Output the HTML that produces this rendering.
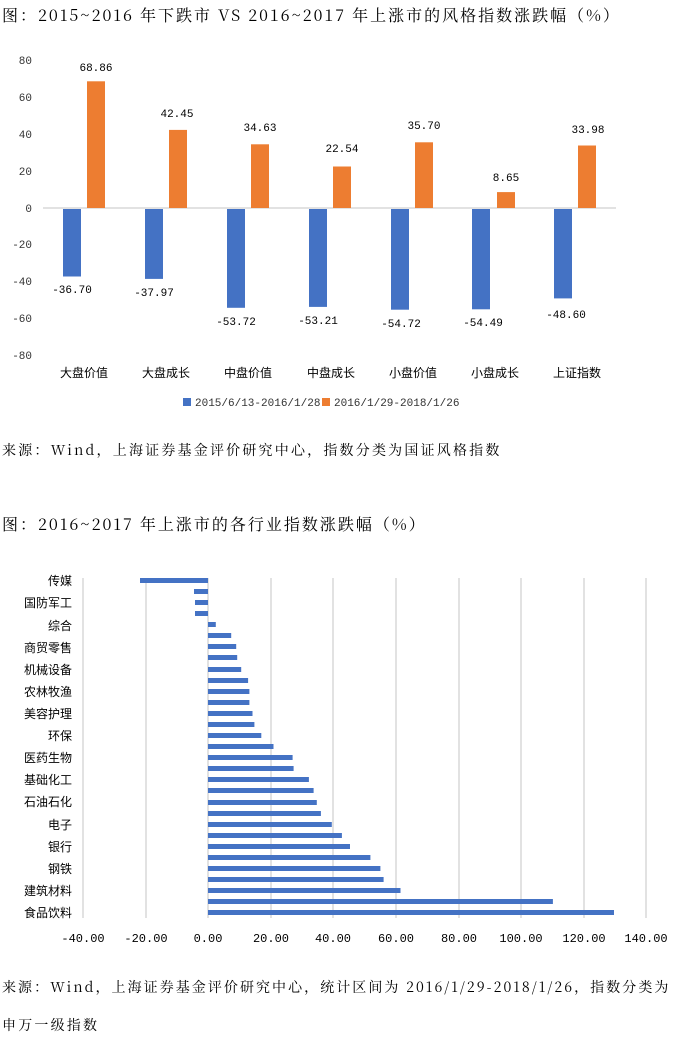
<!DOCTYPE html>
<html><head><meta charset="utf-8"><style>
body{margin:0;background:#fff;width:679px;height:1039px;overflow:hidden;font-family:"Liberation Sans","Noto Sans CJK SC",sans-serif}
svg text{font-family:"Liberation Mono","Noto Sans CJK SC",monospace}
.t{font-family:"Noto Serif CJK SC","Noto Sans CJK SC",serif}
.h{font-family:"Liberation Mono","Noto Serif CJK SC",monospace}
</style></head><body>
<svg width="679" height="1039" xmlns="http://www.w3.org/2000/svg">
<text x="2" y="21" font-size="16" letter-spacing="2" class="t" fill="#000">图：2015~2016 年下跌市 VS 2016~2017 年上涨市的风格指数涨跌幅（%）</text>
<g font-size="11" fill="#333" text-anchor="end">
<text x="32" y="64">80</text><text x="32" y="101">60</text><text x="32" y="138">40</text><text x="32" y="175">20</text><text x="32" y="212">0</text><text x="32" y="248">-20</text><text x="32" y="285">-40</text><text x="32" y="322">-60</text><text x="32" y="359">-80</text>
</g>
<line x1="43" y1="208" x2="616" y2="208" stroke="#d9d9d9" stroke-width="1.5"/>
<g fill="#4472c4">
<rect x="63" y="209" width="18" height="67.5"/><rect x="145" y="209" width="18" height="69.9"/><rect x="227" y="209" width="18" height="98.8"/><rect x="309" y="209" width="18" height="97.9"/><rect x="391" y="209" width="18" height="100.7"/><rect x="472" y="209" width="18" height="100.3"/><rect x="554" y="209" width="18" height="89.4"/>
</g>
<g fill="#ed7d31">
<rect x="87" y="81.3" width="18" height="126.7"/><rect x="169" y="129.9" width="18" height="78.1"/><rect x="251" y="144.3" width="18" height="63.7"/><rect x="333" y="166.5" width="18" height="41.5"/><rect x="415" y="142.3" width="18" height="65.7"/><rect x="497" y="192.1" width="18" height="15.9"/><rect x="578" y="145.5" width="18" height="62.5"/>
</g>
<g font-size="11" fill="#000" text-anchor="middle">
<text x="96" y="71">68.86</text><text x="177" y="117">42.45</text><text x="260" y="131">34.63</text><text x="342" y="152">22.54</text><text x="424" y="129">35.70</text><text x="506" y="181">8.65</text><text x="588" y="133">33.98</text>
<text x="72" y="293">-36.70</text><text x="154" y="296">-37.97</text><text x="236" y="325">-53.72</text><text x="318" y="324">-53.21</text><text x="401" y="327">-54.72</text><text x="483" y="326">-54.49</text><text x="566" y="318">-48.60</text>
</g>
<g font-size="12" fill="#000" text-anchor="middle" class="t">
<text x="84" y="377">大盘价值</text><text x="166" y="377">大盘成长</text><text x="248" y="377">中盘价值</text><text x="331" y="377">中盘成长</text><text x="413" y="377">小盘价值</text><text x="495" y="377">小盘成长</text><text x="577" y="377">上证指数</text>
</g>
<rect x="183" y="398" width="8" height="8" fill="#4472c4"/>
<text x="195" y="406" font-size="11" fill="#333">2015/6/13-2016/1/28</text>
<rect x="322" y="398" width="8" height="8" fill="#ed7d31"/>
<text x="334" y="406" font-size="11" fill="#333">2016/1/29-2018/1/26</text>
<text x="2" y="455" font-size="14" letter-spacing="2.2" class="t" fill="#000">来源：Wind，上海证券基金评价研究中心，指数分类为国证风格指数</text>
<text x="2" y="530" font-size="16" letter-spacing="2" class="t" fill="#000">图：2016~2017 年上涨市的各行业指数涨跌幅（%）</text>
<g stroke="#d9d9d9" stroke-width="1.5">
<line x1="83" y1="578" x2="83" y2="918"/><line x1="146" y1="578" x2="146" y2="918"/><line x1="208" y1="578" x2="208" y2="918"/><line x1="271" y1="578" x2="271" y2="918"/><line x1="333" y1="578" x2="333" y2="918"/><line x1="396" y1="578" x2="396" y2="918"/><line x1="459" y1="578" x2="459" y2="918"/><line x1="521" y1="578" x2="521" y2="918"/><line x1="584" y1="578" x2="584" y2="918"/><line x1="646" y1="578" x2="646" y2="918"/>
</g>
<g font-size="12" fill="#000" text-anchor="end" class="t">
<text x="72" y="585">传媒</text><text x="72" y="607">国防军工</text><text x="72" y="630">综合</text><text x="72" y="652">商贸零售</text><text x="72" y="674">机械设备</text><text x="72" y="696">农林牧渔</text><text x="72" y="718">美容护理</text><text x="72" y="740">环保</text><text x="72" y="762">医药生物</text><text x="72" y="784">基础化工</text><text x="72" y="806">石油石化</text><text x="72" y="829">电子</text><text x="72" y="851">银行</text><text x="72" y="873">钢铁</text><text x="72" y="895">建筑材料</text><text x="72" y="917">食品饮料</text>
</g>
<g font-size="12" fill="#000" text-anchor="middle">
<text x="83" y="942">-40.00</text><text x="146" y="942">-20.00</text><text x="208" y="942">0.00</text><text x="271" y="942">20.00</text><text x="333" y="942">40.00</text><text x="396" y="942">60.00</text><text x="459" y="942">80.00</text><text x="521" y="942">100.00</text><text x="584" y="942">120.00</text><text x="646" y="942">140.00</text>
</g>
<text x="2" y="992" font-size="14" letter-spacing="2.05" class="t" fill="#000">来源：Wind，上海证券基金评价研究中心，统计区间为 2016/1/29-2018/1/26，指数分类为</text>
<text x="2" y="1030" font-size="14" letter-spacing="2.2" class="t" fill="#000">申万一级指数</text>
<g fill="#4472c4">
<rect x="140" y="578" width="68" height="5"/>
<rect x="194" y="589" width="14" height="5"/>
<rect x="195" y="600" width="13" height="5"/>
<rect x="195" y="611" width="13" height="5"/>
<rect x="208" y="622" width="7.8" height="5"/>
<rect x="208" y="633" width="23.2" height="5"/>
<rect x="208" y="644" width="28.2" height="5"/>
<rect x="208" y="655" width="29.2" height="5"/>
<rect x="208" y="667" width="33.2" height="5"/>
<rect x="208" y="678" width="40.1" height="5"/>
<rect x="208" y="689" width="41.4" height="5"/>
<rect x="208" y="700" width="41.4" height="5"/>
<rect x="208" y="711" width="44.5" height="5"/>
<rect x="208" y="722" width="46.4" height="5"/>
<rect x="208" y="733" width="53.3" height="5"/>
<rect x="208" y="744" width="65.5" height="5"/>
<rect x="208" y="755" width="84.6" height="5"/>
<rect x="208" y="766" width="85.6" height="5"/>
<rect x="208" y="777" width="100.9" height="5"/>
<rect x="208" y="788" width="105.6" height="5"/>
<rect x="208" y="800" width="108.8" height="5"/>
<rect x="208" y="811" width="112.9" height="5"/>
<rect x="208" y="822" width="123.8" height="5"/>
<rect x="208" y="833" width="133.9" height="5"/>
<rect x="208" y="844" width="142" height="5"/>
<rect x="208" y="855" width="162.4" height="5"/>
<rect x="208" y="866" width="172.4" height="5"/>
<rect x="208" y="877" width="175.6" height="5"/>
<rect x="208" y="888" width="192.5" height="5"/>
<rect x="208" y="899" width="344.9" height="5"/>
<rect x="208" y="910" width="406" height="5"/>
</g>
</svg>
</body></html>
